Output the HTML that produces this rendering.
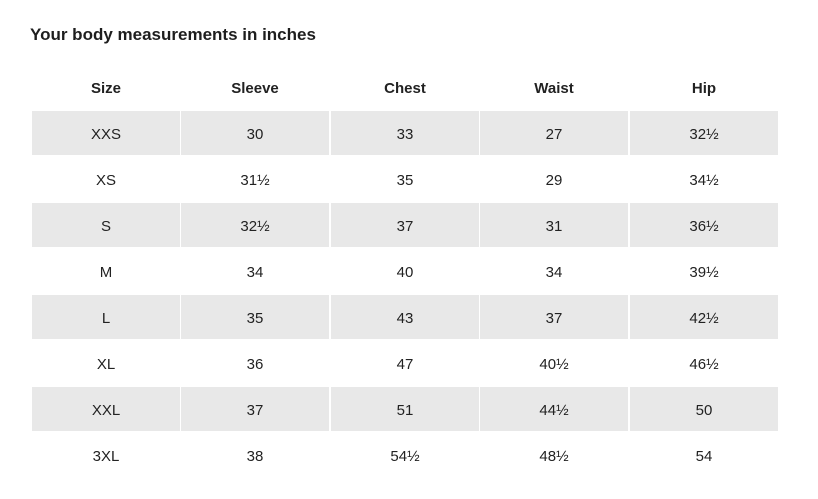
<!DOCTYPE html>
<html><head><meta charset="utf-8"><style>
body{margin:0;width:818px;height:499px;background:#fff;font-family:"Liberation Sans",sans-serif;color:#222;position:relative;overflow:hidden}
.t{position:absolute;left:30px;top:25px;font-size:17px;font-weight:bold;color:#1e1e1e}
.c{position:absolute;width:148px;height:44px;line-height:48px;text-align:center;font-size:15px}
.g{background:#e8e8e8}
.h{font-weight:bold}
</style></head><body>
<div class="t">Your body measurements in inches</div>
<div id="r"></div>
<script>
var rows=[["Size","Sleeve","Chest","Waist","Hip"],["XXS","30","33","27","32½"],["XS","31½","35","29","34½"],["S","32½","37","31","36½"],["M","34","40","34","39½"],["L","35","43","37","42½"],["XL","36","47","40½","46½"],["XXL","37","51","44½","50"],["3XL","38","54½","48½","54"]];
var xs=[32,181,331,480,630];
var h="";
rows.forEach(function(r,i){
 var top=i==0?65:111+(i-1)*46;
 r.forEach(function(v,j){
  var cls="c"+(i==0?" h":"")+(i>0&&i%2==1?" g":"");
  h+='<div class="'+cls+'" style="left:'+xs[j]+'px;top:'+top+'px">'+v+'</div>';
 });
});
document.getElementById("r").innerHTML=h;
</script>
</body></html>
